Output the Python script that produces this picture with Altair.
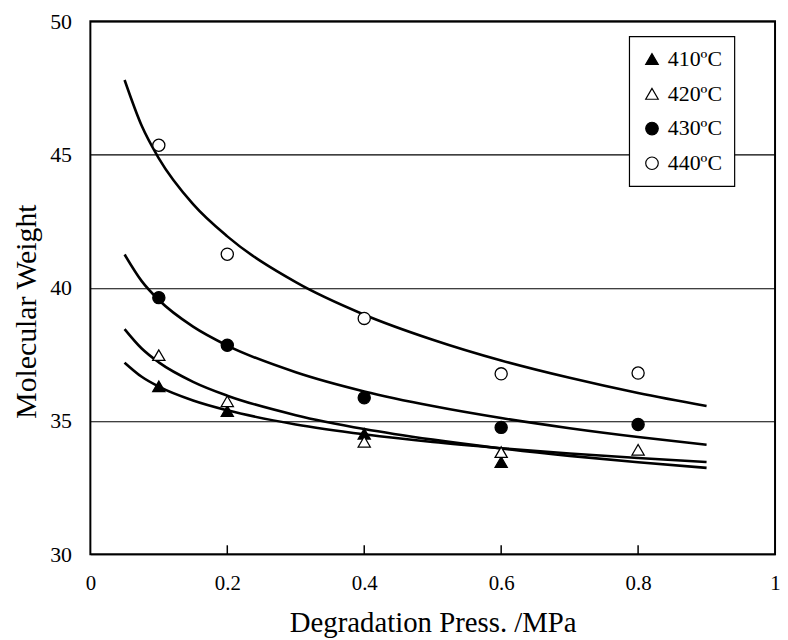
import altair as alt
import pandas as pd

# ---- data ----
series = ["410ºC", "420ºC", "430ºC", "440ºC"]
shapes = ["triangle-up", "triangle-up", "circle", "circle"]
fills = ["black", "white", "black", "white"]
strokes = ["black", "black", "black", "black"]

press_410 = [0.1, 0.2, 0.4, 0.6]
mw_410 = [36.30, 35.37, 34.52, 33.46]
press_420 = [0.1, 0.2, 0.4, 0.6, 0.8]
mw_420 = [37.47, 35.74, 34.22, 33.83, 33.92]
press_430 = [0.1, 0.2, 0.4, 0.6, 0.8]
mw_430 = [39.63, 37.84, 35.87, 34.76, 34.87]
press_440 = [0.1, 0.2, 0.4, 0.6, 0.8]
mw_440 = [45.35, 41.26, 38.85, 36.77, 36.80]

# trend curves read along their length
curve_x = [0.05, 0.075, 0.1, 0.15, 0.2, 0.3, 0.4, 0.5, 0.6, 0.7, 0.8, 0.9]
curve_410 = [37.19, 36.66, 36.29, 35.77, 35.40, 34.87, 34.50, 34.21, 33.98, 33.78, 33.61, 33.46]
curve_420 = [38.45, 37.72, 37.20, 36.47, 35.95, 35.22, 34.70, 34.30, 33.97, 33.69, 33.45, 33.24]
curve_430 = [41.25, 40.25, 39.54, 38.54, 37.83, 36.83, 36.11, 35.56, 35.11, 34.73, 34.40, 34.11]
curve_440 = [47.80, 46.08, 44.86, 43.14, 41.93, 40.21, 38.99, 38.05, 37.27, 36.62, 36.05, 35.56]

x_ticks = [0, 0.2, 0.4, 0.6, 0.8, 1]
inner_ticks = [0.2, 0.4, 0.6, 0.8]
y_ticks = [30, 35, 40, 45, 50]

# ---- tables ----
pts = []
for name, xs, ys in zip(series, [press_410, press_420, press_430, press_440],
                        [mw_410, mw_420, mw_430, mw_440]):
    for a, b in zip(xs, ys):
        pts.append({"temp": name, "p": a, "mw": b})
pts = pd.DataFrame(pts)

cur = []
for name, ys in zip(series, [curve_410, curve_420, curve_430, curve_440]):
    for a, b in zip(curve_x, ys):
        cur.append({"temp": name, "p": a, "mw": b})
cur = pd.DataFrame(cur)

ticks_df = pd.DataFrame({"p": inner_ticks})

FONT = "Liberation Serif"

xscale = alt.Scale(domain=[0, 1], nice=False)
yscale = alt.Scale(domain=[30, 50], nice=False)

xaxis = alt.Axis(values=x_ticks, format="~g", title="Degradation Press. /MPa",
                 grid=False, ticks=False, domain=False,
                 labelFont=FONT, labelFontSize=21, labelColor="black",
                 labelPadding=36, labelBaseline="alphabetic", labelFlush=False,
                 labelOverlap=False,
                 titleFont=FONT, titleFontSize=29, titleFontWeight="normal",
                 titleColor="black", titleBaseline="alphabetic", titleY=78)
yaxis = alt.Axis(values=y_ticks, title="Molecular Weight",
                 grid=True, gridColor="black", gridWidth=1.2, gridOpacity=1,
                 ticks=False, domain=False,
                 labelFont=FONT, labelFontSize=22, labelColor="black",
                 labelPadding=19,
                 titleFont=FONT, titleFontSize=30, titleFontWeight="normal",
                 titleColor="black", titleBaseline="alphabetic",
                 titleX=-55, titleY=292, titleAngle=270)

legend = alt.Legend(title=None, orient="none", legendX=543, legendY=15,
                    labelFont=FONT, labelFontSize=22, labelColor="black",
                    labelOffset=5, symbolSize=160, symbolStrokeColor="black",
                    symbolStrokeWidth=1.2, rowPadding=13, padding=12,
                    strokeColor="black", fillColor="white")

lines = alt.Chart(cur).mark_line(color="black", strokeWidth=2.6,
                                 interpolate="monotone").encode(
    x=alt.X("p:Q", scale=xscale, axis=xaxis),
    y=alt.Y("mw:Q", scale=yscale, axis=yaxis),
    detail="temp:N",
)

tickmarks = alt.Chart(ticks_df).mark_rule(color="black", strokeWidth=1.5).encode(
    x=alt.X("p:Q", scale=xscale),
    y=alt.value(537),
    y2=alt.value(528),
)

points = alt.Chart(pts).mark_point(filled=True, strokeWidth=1.3,
                                   opacity=1, size=150).encode(
    x=alt.X("p:Q", scale=xscale),
    y=alt.Y("mw:Q", scale=yscale),
    shape=alt.Shape("temp:N", scale=alt.Scale(domain=series, range=shapes),
                    legend=legend),
    fill=alt.Fill("temp:N", scale=alt.Scale(domain=series, range=fills),
                  legend=legend),
    stroke=alt.Stroke("temp:N", scale=alt.Scale(domain=series, range=strokes),
                      legend=legend),
)

chart = alt.layer(lines, tickmarks, points).properties(
    width=690, height=537,
    autosize=alt.AutoSizeParams(type="none"),
    padding={"left": 83, "top": 11, "right": 5, "bottom": 84},
    background="white",
).configure(font=FONT).configure_view(stroke="black", strokeWidth=2).configure_legend(
    strokeWidth=1.2, labelFont=FONT
).configure_axis(labelFont=FONT, titleFont=FONT)

chart.save("out.html", embed_options={"renderer": "svg", "actions": False})
